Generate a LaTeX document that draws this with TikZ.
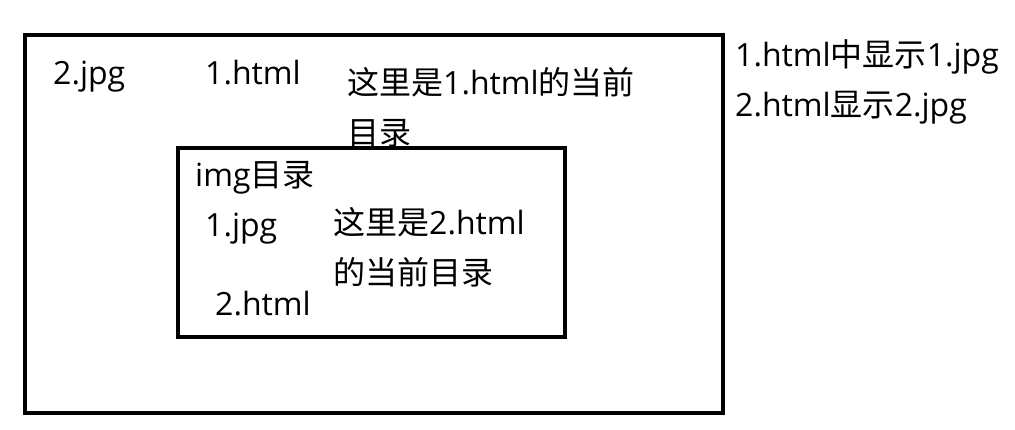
\documentclass[tikz,border=0pt]{standalone}
\usepackage{fontspec}
\setmainfont{Open Sans}
\newfontfamily\cjk{Noto Sans CJK SC}
\begin{document}
\begin{tikzpicture}[x=1pt,y=-1pt]
		\tikzstyle{dir}=[draw=black,line width=4.5pt]
		\tikzstyle{label}=[inner sep=0pt,anchor=base west,align=left,font={\fontsize{32}{50}\selectfont}]
		\useasboundingbox (0,0) rectangle (1015,430);
		\draw[dir] (25,35) rectangle (723,413);
		\draw[dir] (178,148) rectangle (565,337);
		\node[label] (f_1) at (53,85) {2.jpg};
		\node[label] (f_2) at (205,85) {1.html};
		\node[label] (f_3) at (347,145) {{\cjk 这里是}1.html{\cjk 的当前}\\{\cjk 目录}};
		\node[label] (f_4) at (195,187) {img{\cjk 目录}};
		\node[label] (f_5) at (205,237) {1.jpg};
		\node[label] (f_6) at (333,285) {{\cjk 这里是}2.html\\{\cjk 的当前目录}};
		\node[label] (f_7) at (215,316) {2.html};
		\node[label] (f_8) at (735,117) {1.html{\cjk 中显示}1.jpg\\2.html{\cjk 显示}2.jpg};
	\end{tikzpicture}
\end{document}
